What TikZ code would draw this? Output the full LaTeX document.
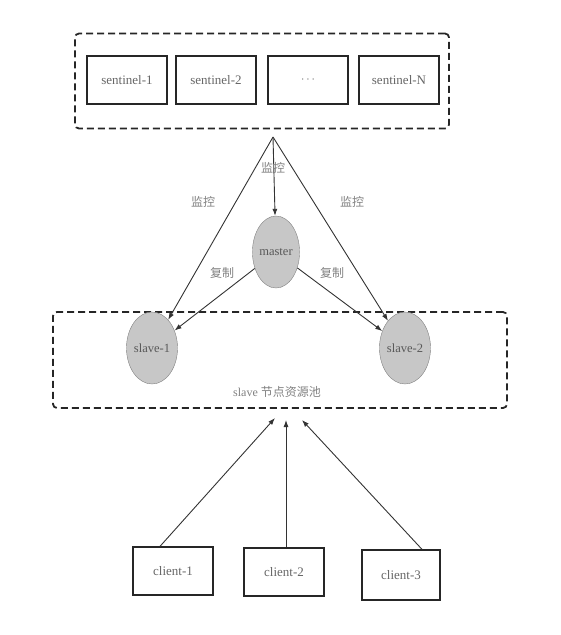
\documentclass[tikz,border=0pt]{standalone}
\usepackage{fontspec}
\setmainfont{Liberation Serif}
\newfontfamily\cjk{Noto Sans CJK SC}
\usetikzlibrary{shapes.geometric,arrows.meta}
\tikzset{
  box/.style={draw=black!85,line width=1.3pt,minimum width=80pt,minimum height=48pt,inner sep=0pt,text=black!60,font=\fontsize{13}{15}\selectfont},
  pool/.style={draw=black!85,line width=1.8pt,dash pattern=on 7pt off 4pt,rounded corners=4pt,inner sep=0pt},
  host/.style={ellipse,draw=black!50,fill=black!22,minimum width=46pt,minimum height=72pt,inner sep=0pt,text=black!65,font=\fontsize{12.5}{14}\selectfont},
  lbl/.style={text=black!50,font=\cjk\fontsize{12}{14}\selectfont},
  link/.style={draw=black!80,line width=0.9pt,-{Latex[length=7pt,width=5pt]}}
}
\begin{document}
\begin{tikzpicture}[x=1pt,y=-1pt]
  \useasboundingbox (0,0) rectangle (561,635);
  \node[pool,minimum width=374pt,minimum height=95pt] (sgroup) at (262,81) {};
  \node[pool,minimum width=454pt,minimum height=96pt] (pool) at (280,360) {};
  \begin{scope}[every node/.style={box}]
  \node (s1) at (127,80) {sentinel-1};
  \node (s2) at (216,80) {sentinel-2};
  \node (s3) at (308,80) {$\cdots$};
  \node (sn) at (399,80) {sentinel-N};
  \node (c1) at (173,571) {client-1};
  \node (c2) at (284,572) {client-2};
  \node[minimum width=78pt,minimum height=50pt] (c3) at (401,575) {client-3};
  \end{scope}
  \begin{scope}[every node/.style={host}]
  \node (m) at (276,252) {master};
  \node (sl1) at (152,348) {slave-1};
  \node (sl2) at (405,348) {slave-2};
  \end{scope}
  \coordinate (apex) at (273,137);
  \coordinate (p1) at (275,418);
  \coordinate (p2) at (286,420);
  \coordinate (p3) at (302,420);
  \begin{scope}[every edge/.style={link}]
  \path (apex) edge (m);
  \path (apex) edge (sl1);
  \path (apex) edge (sl2);
  \path (m) edge (sl1);
  \path (m) edge (sl2);
  \path ([xshift=-13pt]c1.north) edge (p1);
  \path ([xshift=2pt]c2.north) edge (p2);
  \path ([xshift=21pt]c3.north) edge (p3);
  \end{scope}
  \begin{scope}[every node/.style={lbl}]
  \node (w1) at (203,202) {监控};
  \node (w2) at (273,168) {监控};
  \node (w3) at (352,202) {监控};
  \node (r1) at (222,273) {复制};
  \node (r2) at (332,273) {复制};
  \end{scope}
  \node[text=black!50,font=\fontsize{12}{14}\selectfont] (pl) at (277,392) {slave {\cjk 节点资源池}};
\end{tikzpicture}
\end{document}
